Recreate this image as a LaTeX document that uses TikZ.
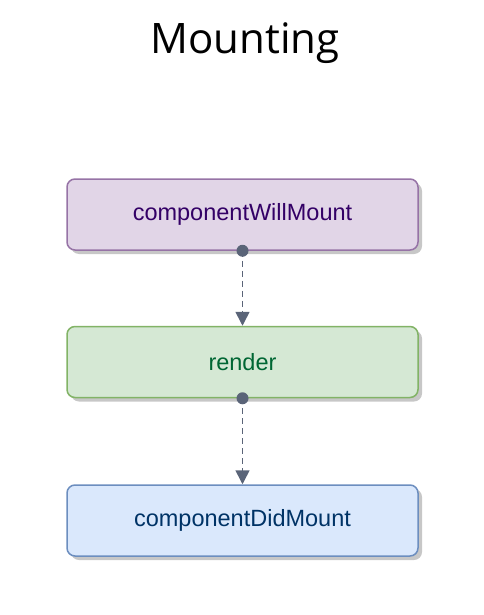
\documentclass[tikz,border=0pt]{standalone}
\usepackage{fontspec}
\setmainfont{Liberation Sans}
\newfontfamily\titlefont{Open Sans}
\usetikzlibrary{arrows.meta,shadows,positioning}

\definecolor{linkgray}{HTML}{5A6478}
\definecolor{willfill}{HTML}{E1D5E7}
\definecolor{willdraw}{HTML}{9673A6}
\definecolor{willtext}{HTML}{330066}
\definecolor{renderfill}{HTML}{D5E8D4}
\definecolor{renderdraw}{HTML}{82B366}
\definecolor{rendertext}{HTML}{006633}
\definecolor{didfill}{HTML}{DAE8FC}
\definecolor{diddraw}{HTML}{6C8EBF}
\definecolor{didtext}{HTML}{003366}

\begin{document}
\begin{tikzpicture}[x=1pt,y=-1pt,
    phase/.style={rounded corners=8pt, line width=1.5pt, minimum width=351pt,
      minimum height=71pt, font=\fontsize{23.5}{26}\selectfont,
      drop shadow={shadow xshift=4pt, shadow yshift=-4pt, fill=black!22, opacity=1}},
    link/.style={linkgray, line width=1.6pt, dash pattern=on 6pt off 4pt,
      -{Triangle[width=14pt,length=14pt]}}]
    \useasboundingbox (0,0) rectangle (483,615);

    \node[font=\titlefont\fontsize{42}{46}\selectfont] (title) at (245,43) {Mounting};

    \node[phase, fill=willfill, draw=willdraw, text=willtext] (will) at (242.5,214.5) {componentWillMount};
    \node[phase, fill=renderfill, draw=renderdraw, text=rendertext] (render) at (242.5,362) {render};
    \node[phase, fill=didfill, draw=diddraw, text=didtext] (did) at (242.5,520.5) {componentDidMount};

    % connectors
    \draw[link] (will.south) -- (render.north);
    \fill[linkgray] (will.south) circle (6pt);
    \draw[link] (render.south) -- (did.north);
    \fill[linkgray] (render.south) circle (6pt);
\end{tikzpicture}
\end{document}
